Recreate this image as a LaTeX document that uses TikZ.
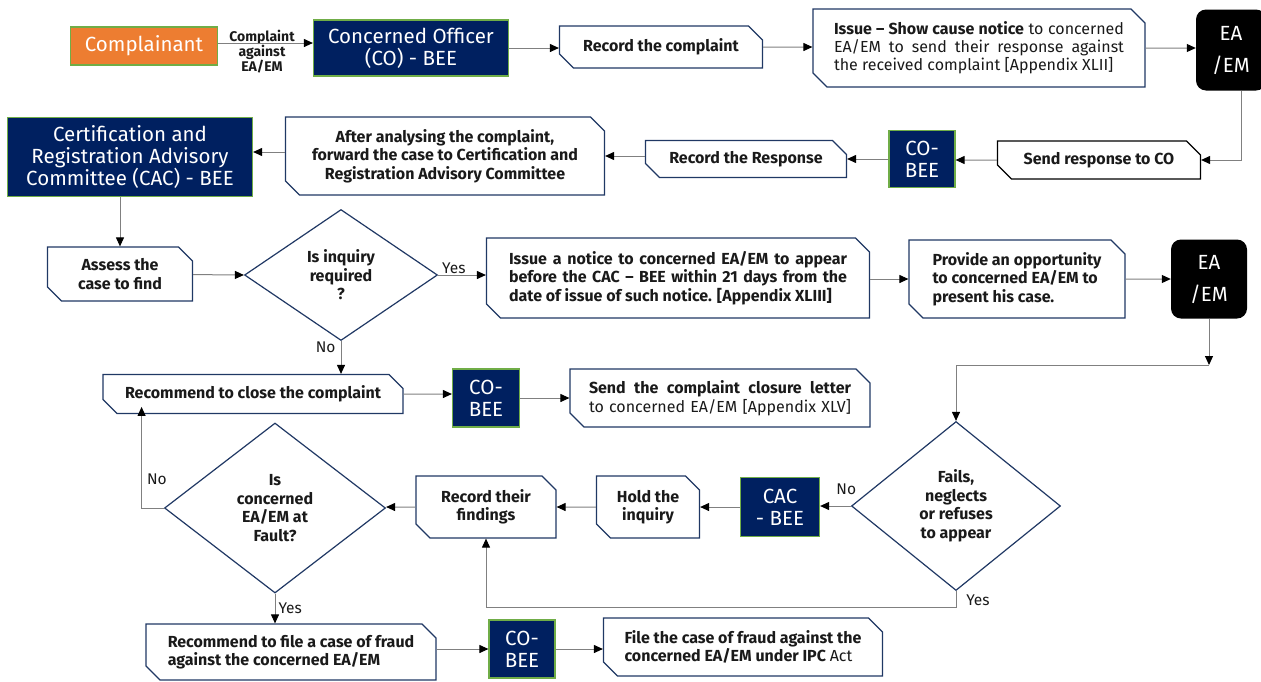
\documentclass[tikz,border=0pt]{standalone}
\usepackage{fontspec}
\setmainfont{Fira Sans}
\usepackage{tikz}
\usetikzlibrary{arrows.meta,positioning,calc,shapes.geometric,shapes.misc}
\definecolor{navy}{HTML}{002060}
\definecolor{boxline}{HTML}{203864}
\definecolor{leafgreen}{HTML}{70AD47}
\definecolor{orangebox}{HTML}{ED7D31}
\definecolor{linegray}{HTML}{808080}
\definecolor{inkdark}{HTML}{1A1A1A}
\tikzset{
  stepbox/.style={chamfered rectangle, chamfered rectangle corners={north east,south west},
               chamfered rectangle sep=7pt, draw=boxline, line width=1.2pt, fill=white,
               align=center, font=\fontsize{16}{18.5}\selectfont\bfseries, text=inkdark, inner sep=0pt},
  cobox/.style={draw=leafgreen, line width=1.2pt, fill=navy, text=white, align=center,
               font=\fontsize{20.5}{22}\selectfont, inner sep=0pt},
  eabox/.style={rounded corners=10pt, fill=black, text=white, align=center,
               font=\fontsize{20.5}{32}\selectfont, inner sep=0pt},
  askbox/.style={diamond, draw=boxline, line width=1.2pt, fill=white, align=center,
               font=\fontsize{16}{18.5}\selectfont\bfseries, text=inkdark, inner sep=0pt},
  flow/.style={draw=linegray, line width=1pt, -{Triangle[length=9pt,width=8pt,black]}},
  tag/.style={font=\fontsize{15.5}{17}\selectfont, text=inkdark, inner sep=1pt},
}
\newcommand{\fillline}[2]{\makebox[#1][s]{#2}}

\begin{document}
\begin{tikzpicture}[x=1pt,y=-1pt]
  \useasboundingbox (0,0) rectangle (1261,681);
  % first row
  \node[cobox, fill=orangebox, minimum width=147pt, minimum height=38pt] (cmp) at (144,46) {Complainant};
  \node[cobox, minimum width=195pt, minimum height=56pt] (co) at (411,48) {Concerned Officer\\(CO) - BEE};
  \node[stepbox, minimum width=203pt, minimum height=42pt] (rec) at (661,47) {Record the complaint};
  \node[stepbox, minimum width=332pt, minimum height=78pt, align=left, font=\fontsize{16}{18}\selectfont] (notice) at (979,48)
    {\fillline{290pt}{\textbf{Issue – Show cause notice} to concerned}\\
     \fillline{290pt}{EA/EM to send their response against}\\
     the received complaint [Appendix XLII]};
  \node[eabox, minimum width=70pt, minimum height=81pt] (ea1) at (1231,50) {EA\\/EM};
  \node[tag, font=\fontsize{14}{15}\selectfont\bfseries, align=center] (against) at (262,52) {Complaint\\against\\EA/EM};
  % second row
  \node[cobox, minimum width=245pt, minimum height=79pt] (cac) at (130,157) {Certification and\\Registration Advisory\\Committee (CAC) - BEE};
  \node[stepbox, minimum width=319pt, minimum height=78pt] (fwd) at (445,156)
    {After analysing the complaint,\\forward the case to Certification and\\Registration Advisory Committee};
  \node[stepbox, minimum width=201pt, minimum height=37pt] (resp) at (746,159) {Record the Response};
  \node[cobox, minimum width=66pt, minimum height=57pt] (cob1) at (922,159) {CO-\\BEE};
  \node[stepbox, draw=black, minimum width=203pt, minimum height=38pt] (send) at (1099,160) {Send response to CO};
  % third row
  \node[stepbox, minimum width=145pt, minimum height=54pt] (assess) at (120,274) {Assess the\\case to find};
  \node[askbox, minimum width=193pt, minimum height=131pt] (inq) at (341,275) {Is inquiry\\required\\?};
  \node[stepbox, minimum width=383pt, minimum height=80pt, align=left] (appear) at (678,278)
    {\fillline{338pt}{Issue a notice to concerned EA/EM to appear}\\
     \fillline{338pt}{before the CAC – BEE within 21 days from the}\\
     date of issue of such notice. [Appendix XLIII]};
  \node[stepbox, minimum width=216pt, minimum height=78pt, align=left] (prov) at (1017,279)
    {Provide an opportunity\\to concerned EA/EM to\\present his case.};
  \node[eabox, minimum width=76pt, minimum height=79pt] (ea2) at (1209,279) {EA\\/EM};
  \coordinate (turn) at (1209,365);
  % fourth row
  \node[stepbox, minimum width=300pt, minimum height=39pt] (close) at (253,394) {Recommend to close the complaint};
  \node[cobox, minimum width=67pt, minimum height=58pt] (cob2) at (486,398) {CO-\\BEE};
  \node[stepbox, minimum width=300pt, minimum height=58pt, align=left] (closure) at (720,398)
    {\fillline{262pt}{Send the complaint closure letter}\\
     \fillline{262pt}{\mdseries to concerned EA/EM [Appendix XLV]}};
  % fifth row
  \node[askbox, minimum width=209pt, minimum height=169pt] (fails) at (956,506) {Fails,\\neglects\\or refuses\\to appear};
  \node[cobox, minimum width=79pt, minimum height=59pt] (cac2) at (780,507) {CAC\\- BEE};
  \node[stepbox, minimum width=103pt, minimum height=62pt] (hold) at (648,507) {Hold the\\inquiry};
  \node[stepbox, minimum width=140pt, minimum height=62pt] (find) at (486,507) {Record their\\findings};
  \node[askbox, minimum width=221pt, minimum height=170pt] (fault) at (275,508) {Is\\concerned\\EA/EM at\\Fault?};
  % last row
  \node[stepbox, minimum width=290pt, minimum height=56pt, align=left] (fraud) at (291,652)
    {Recommend to file a case of fraud\\against the concerned EA/EM};
  \node[cobox, minimum width=66pt, minimum height=58pt] (cob3) at (522,649) {CO-\\BEE};
  \node[stepbox, minimum width=279pt, minimum height=58pt, align=left] (file) at (743,647)
    {File the case of fraud against the\\concerned EA/EM under IPC {\mdseries Act}};

  \draw[flow] (cmp.east |- 0,43) -- (co.west |- 0,43);
  \draw[flow] (co) -- (co -| rec.west);
  \draw[flow] (rec) -- (rec -| notice.west);
  \draw[flow] (notice) -- (notice -| ea1.west);
  \draw[flow] ([xshift=10pt]ea1.south) |- (send.east);
  \draw[flow] (send) -- (send -| cob1.east);
  \draw[flow] (cob1) -- (cob1 -| resp.east);
  \draw[flow] (resp.west |- fwd) -- (fwd.east);
  \draw[flow] (fwd.west |- 0,152) -- (cac.east |- 0,152);
  \draw[flow] (cac.south -| assess.north) -- (assess.north);
  \draw[flow] (assess) -- (inq.west);
  \draw[flow] (inq.east) -- (inq.east -| appear.west) node[tag, pos=0.33, above] (yes1) {Yes};
  \draw[flow] (appear.east |- prov) -- (prov.west);
  \draw[flow] (prov) -- (prov -| ea2.west);
  \draw[flow] (ea2) -- (turn);
  \draw[flow] (turn) -| (fails.north);
  \draw[flow] (inq.south) -- (inq.south |- close.north) node[tag, pos=0.2, left=4pt] (no1) {No};
  \draw[flow] (close) -- (close -| cob2.west);
  \draw[flow] (cob2) -- (cob2 -| closure.west);
  \draw[flow] (fails.west) -- (fails.west -| cac2.east) node[tag, pos=0.15, above=10pt] (no2) {No};
  \draw[flow] (cac2) -- (cac2 -| hold.east);
  \draw[flow] (hold) -- (hold -| find.east);
  \draw[flow] (find) -- (find -| fault.east);
  \draw[flow] (fails.south) -- ++(0,16) -| (find.south);
  \node[tag] (yes2) at (978,600) {Yes};
  \draw[flow] (fault.west) -| ($(close.south west)+(32,0)$) node[tag, pos=0.64, right=4pt] (no3) {No};
  \draw[flow] (fault.south) -- (fault.south |- fraud.north) node[tag, midway, right=2pt] (yes3) {Yes};
  \draw[flow] (fraud.east |- cob3) -- (cob3.west);
  \draw[flow] (cob3) -- (cob3 -| file.west);
\end{tikzpicture}
\end{document}
